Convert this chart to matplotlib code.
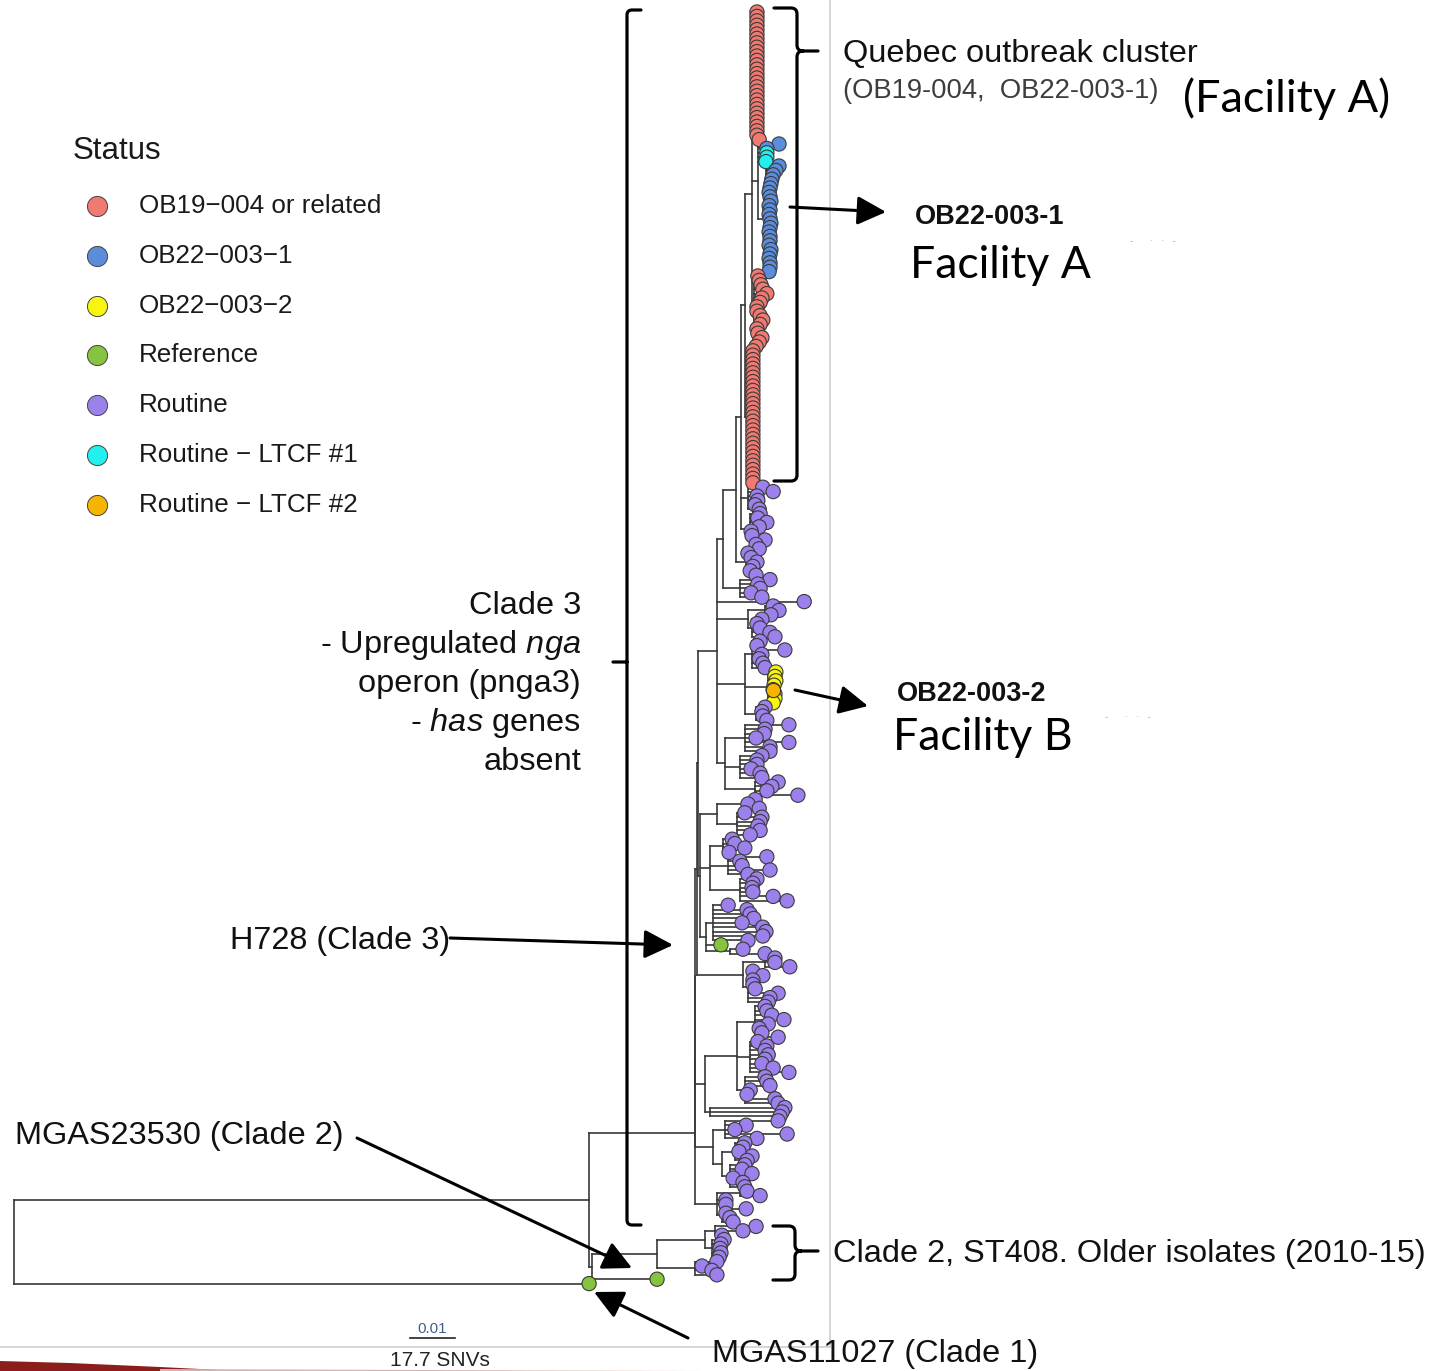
import matplotlib
matplotlib.use("Agg")
import matplotlib.pyplot as plt
from matplotlib.path import Path
from matplotlib.patches import PathPatch, Polygon
from matplotlib.collections import LineCollection

plt.rcParams['font.family'] = ['Liberation Sans', 'DejaVu Sans']
plt.rcParams['mathtext.fontset'] = 'custom'
plt.rcParams['mathtext.rm'] = 'Liberation Sans'
plt.rcParams['mathtext.it'] = 'Liberation Sans:italic'
plt.rcParams['mathtext.bf'] = 'Liberation Sans:bold'

# ---------------- data ----------------
status_labels = ["OB19\u2212004 or related", "OB22\u2212003\u22121", "OB22\u2212003\u22122",
                 "Reference", "Routine", "Routine \u2212 LTCF #1", "Routine \u2212 LTCF #2"]
status_codes = ["R", "B", "Y", "G", "P", "C", "O"]
status_colors = ["#F07A72", "#5B8DDB", "#F8F50E", "#86C33F", "#9C80EC", "#22F0EE", "#F5B400"]

# tip order top -> bottom; depth from root in 1e-3 substitutions/site
tip_depth = [
    # 0-29 Quebec outbreak, red column
    165.1, 165.1, 165.1, 165.1, 165.1, 165.1, 165.1, 165.1, 165.1, 165.1,
    165.1, 165.1, 165.1, 165.1, 165.1, 165.1, 165.1, 165.1, 165.1, 165.1,
    165.1, 165.1, 165.1, 165.1, 165.1, 165.1, 165.1, 165.1, 165.1, 165.6,
    # 30-59 OB22-003-1 / LTCF#1
    170.0, 167.3, 167.3, 167.3, 167.1, 170.0, 169.3, 168.7, 168.4, 168.2,
    168.0, 167.8, 168.0, 168.2, 167.8, 168.0, 167.8, 168.0, 168.2, 168.0,
    167.8, 168.0, 168.0, 167.8, 168.2, 168.0, 167.8, 168.0, 168.0, 167.8,
    # 60-76 red scattered
    165.3, 165.6, 166.0, 166.4, 167.3, 166.2, 165.8, 165.1, 165.1, 165.8,
    166.4, 165.8, 165.1, 165.3, 166.2, 165.6, 164.9,
    # 77-107 red column
    164.2, 164.2, 164.2, 164.2, 164.2, 164.2, 164.2, 164.2, 164.2, 164.2,
    164.2, 164.2, 164.2, 164.2, 164.2, 164.2, 164.2, 164.2, 164.2, 164.2,
    164.2, 164.2, 164.2, 164.2, 164.2, 164.2, 164.2, 164.2, 164.2, 164.2,
    164.2,
    # 108-121
    166.4, 168.7, 165.1, 165.3, 164.7, 165.6,
    165.8, 165.3, 167.3, 165.6, 163.8, 164.0, 166.9, 164.9,
    # 122-133
    165.6, 163.1, 163.8, 165.1, 164.2, 163.6, 164.9,
    168.0, 165.3, 165.8, 163.8, 166.2,
    # 134-142
    175.6, 168.7, 170.0, 168.2, 166.2, 165.1, 165.8, 168.0, 169.1,
    # 143-161 (incl. OB22-003-2)
    165.8, 165.1, 171.3, 166.2, 165.6, 166.4, 166.9,
    169.3, 169.1, 169.3, 168.9, 168.7, 169.1, 169.1, 168.7,
    166.9, 166.2, 166.4, 167.3,
    # 162-178
    172.2, 166.9, 166.7, 164.9, 172.2, 168.0, 168.0,
    166.2, 165.1, 165.1, 163.8, 165.8, 166.2,
    169.8, 168.4, 167.3, 174.2,
    # 179-214 (incl. H728)
    164.7, 163.1, 165.6, 162.4, 166.2, 165.8, 165.3, 165.8, 163.6,
    159.6, 160.2, 162.4, 158.9, 167.3, 161.3, 161.8, 168.0, 163.1,
    165.1, 164.2, 164.0, 164.2, 168.7, 171.8,
    158.7, 162.9, 163.6, 164.4, 161.8, 166.4, 167.1, 166.4, 163.1,
    157.1, 162.0, 166.9,
    # 215-225
    169.1, 169.1, 172.4, 164.2, 166.4, 164.2, 164.2, 164.7, 169.8, 168.0, 167.6,
    # 226-251
    166.9, 167.3, 168.4, 171.1, 167.6, 165.6, 166.2, 169.8,
    165.3, 167.3, 166.9, 167.6, 166.9, 166.2, 168.7, 172.2,
    166.9, 167.3, 168.0, 163.6, 162.9, 169.1, 169.8,
    171.3, 170.7, 170.2,
    # 252-275
    169.8, 162.7, 160.2, 171.8, 165.1,
    162.4, 162.0, 161.1, 164.0, 162.9,
    162.4, 161.8, 164.0, 159.8, 162.0, 162.4,
    162.9, 165.8, 158.2, 158.2, 162.7, 158.2, 159.1, 159.8,
    # 276-287 Clade 2
    164.9, 162.0, 157.3, 157.8, 157.1, 156.9, 157.1, 156.7,
    156.2, 152.9, 155.1, 156.2,
    # 288 MGAS23530, 289 MGAS11027
    142.9, 127.8,
]

tip_status = list(
    "R" * 30
    + "BBCCC" + "B" * 25
    + "R" * 17
    + "R" * 31
    + "P" * 42
    + "YYYYOYYY"
    + "P" * 54
    + "G"
    + "P" * 75
    + "GG"
)

# internal nodes: tip-index range [first, last] and node depth
grp_first = [0, 0, 0, 0, 0, 0, 0, 0, 0, 0, 0, 0, 0, 0, 30, 35, 60, 77,
             108, 114, 122, 129, 135, 135, 138, 143, 143, 150, 158,
             162, 162, 169, 175, 179, 179, 179, 182, 188, 188, 192, 197,
             203, 203, 213, 215, 215, 218, 226, 226, 226, 234, 242, 249,
             252, 252, 257, 257, 262, 268, 268, 272, 276, 276, 276, 276, 279, 284]
grp_last = [289, 288, 275, 267, 251, 225, 214, 178, 133, 128, 121, 107, 76, 29, 59, 59, 76, 107,
            113, 121, 128, 133, 142, 137, 142, 161, 149, 157, 161,
            178, 168, 174, 178, 214, 187, 181, 187, 202, 191, 196, 202,
            214, 211, 214, 225, 217, 225, 251, 248, 233, 241, 248, 251,
            267, 256, 267, 261, 267, 275, 269, 275, 288, 287, 283, 278, 283, 287]
grp_depth = [0.0, 127.8, 151.3, 151.3, 151.3, 151.8, 152.0, 156.2, 157.6, 160.4, 161.6, 162.4, 164.0, 164.7, 165.3, 167.1, 164.4, 162.9,
             163.1, 163.6, 162.7, 161.3, 163.1, 166.9, 164.0, 162.4, 164.0, 167.6, 164.9,
             158.0, 162.4, 161.3, 164.7, 152.4, 156.2, 162.4, 160.7, 154.7, 157.6, 158.7, 161.3,
             153.8, 155.3, 159.1, 162.0, 166.9, 163.1, 153.6, 160.7, 164.7, 163.6, 162.4, 154.7,
             155.3, 158.0, 157.3, 160.2, 159.1, 156.2, 161.3, 157.3, 128.4, 142.9, 153.6, 155.8, 155.1, 151.3]

scale_len = 10.0          # 0.01 substitutions/site
scale_snv = "17.7 SNVs"

assert len(tip_depth) == 290, len(tip_depth)
assert len(tip_status) == 290, len(tip_status)
assert len(grp_first) == len(grp_last) == len(grp_depth)

# ---------------- tree layout ----------------
n_tip = len(tip_depth)
n_grp = len(grp_first)
gsize = [grp_last[g] - grp_first[g] for g in range(n_grp)]

def smallest_container(f, l, exclude=None):
    best, bsize = None, None
    for h in range(n_grp):
        if h == exclude:
            continue
        if grp_first[h] <= f and l <= grp_last[h] and (exclude is None or gsize[h] > gsize[exclude]):
            if bsize is None or gsize[h] < bsize:
                best, bsize = h, gsize[h]
    return best

grp_parent = [smallest_container(grp_first[g], grp_last[g], exclude=g) for g in range(n_grp)]
tip_parent = [smallest_container(i, i) for i in range(n_tip)]

children = {g: [] for g in range(n_grp)}
for i in range(n_tip):
    children[tip_parent[i]].append(("t", i))
for g in range(n_grp):
    if grp_parent[g] is not None:
        children[grp_parent[g]].append(("g", g))

grp_y = [None] * n_grp
for g in sorted(range(n_grp), key=lambda k: gsize[k]):
    ys = [c[1] if c[0] == "t" else grp_y[c[1]] for c in children[g]]
    grp_y[g] = (min(ys) + max(ys)) / 2.0

segs = []
for g in range(n_grp):
    ys = []
    for kind, k in children[g]:
        cy = k if kind == "t" else grp_y[k]
        cx = tip_depth[k] if kind == "t" else grp_depth[k]
        ys.append(cy)
        segs.append([(grp_depth[g], cy), (cx, cy)])
    segs.append([(grp_depth[g], min(ys)), (grp_depth[g], max(ys))])

# ---------------- figure ----------------
W, H = 1432, 1371
fig = plt.figure(figsize=(W / 100, H / 100), dpi=100)
ax = fig.add_axes([0, 0, 1, 1])
ax.axis("off")
# 4.5 px per 1e-3 subs/site, root at x=14px; 4.4 px per tip, first tip at y=12px
ax.set_xlim(-14 / 4.5, (W - 14) / 4.5)
ax.set_ylim((H - 12) / 4.4, -12 / 4.4)

ax.add_collection(LineCollection(segs, colors="#383838", linewidths=1.2, zorder=1,
                                 capstyle="projecting"))
col_map = dict(zip(status_codes, status_colors))
idx = list(range(n_tip))
ax.scatter(tip_depth, idx, s=105, c=[col_map[s] for s in tip_status],
           edgecolors="#3a3a3a", linewidths=0.8, zorder=3)
# LTCF #2 isolate drawn on top of its neighbours
o_idx = [i for i in idx if tip_status[i] == "O"]
ax.scatter([tip_depth[i] for i in o_idx], o_idx, s=105, c=col_map["O"],
           edgecolors="#3a3a3a", linewidths=0.8, zorder=4)

# scale bar
sb_x0, sb_y = 88.0, 301.4
ax.plot([sb_x0, sb_x0 + scale_len], [sb_y, sb_y], color="#222222", lw=1.2)
ax.text(sb_x0 + scale_len / 2, sb_y - 0.4, "0.01", ha="center", va="bottom",
        fontsize=11, color="#40608a")
ax.text(sb_x0 + scale_len / 2 + 1.6, sb_y + 5.0, scale_snv, ha="center", va="center",
        fontsize=15, color="#222222")

# ---------------- annotation overlay (pixel coords) ----------------
ov = fig.add_axes([0, 0, 1, 1])
ov.set_xlim(0, W)
ov.set_ylim(H, 0)
ov.axis("off")
ov.patch.set_alpha(0)

# slide border lines and corner decoration
ov.plot([830, 830], [0, 1347], color="#cfcfcf", lw=1.2)
ov.plot([0, 830], [1347, 1347], color="#cfcfcf", lw=1.2)
ov.add_patch(Polygon([(0, 1361), (70, 1363), (160, 1367), (240, 1371), (0, 1371)],
                     closed=True, color="#8c1d1d", lw=0))
ov.add_patch(Polygon([(160, 1369), (420, 1370), (700, 1371), (160, 1371)],
                     closed=True, color="#d9b3b3", lw=0))

# legend
ov.text(73, 151, "Status", fontsize=22.5, color="#1a1a1a", va="center", ha="left")
for k, (lab, colr) in enumerate(zip(status_labels, status_colors)):
    yy = 206 + k * 49.8
    ov.scatter([97], [yy], s=210, color=colr, edgecolors="#444444", linewidths=0.7, zorder=5)
    ov.text(139, yy, lab, fontsize=18.7, color="#1a1a1a", va="center", ha="left")

def brace(x0, x1, xtip, ytop, ymid, ybot, r=6):
    v = [(x0, ytop), (x1 - r, ytop), (x1, ytop), (x1, ytop + r), (x1, ymid - r),
         (x1, ymid), (x1 + r, ymid), (xtip, ymid),
         (x1 + r, ymid), (x1, ymid), (x1, ymid + r), (x1, ybot - r),
         (x1, ybot), (x1 - r, ybot), (x0, ybot)]
    c = [Path.MOVETO, Path.LINETO, Path.CURVE3, Path.CURVE3, Path.LINETO,
         Path.CURVE3, Path.CURVE3, Path.LINETO,
         Path.MOVETO, Path.CURVE3, Path.CURVE3, Path.LINETO,
         Path.CURVE3, Path.CURVE3, Path.LINETO]
    ov.add_patch(PathPatch(Path(v, c), fill=False, lw=2.3, color="black",
                           capstyle="round", joinstyle="round"))

brace(774, 797, 818, 8, 51, 481)
brace(773, 795, 818, 1226, 1251, 1280)

# Clade 3 bracket
r = 5
v = [(641, 10), (627 + r, 10), (627, 10), (627, 10 + r), (627, 1225 - r), (627, 1225), (627 + r, 1225), (641, 1225),
     (627, 662), (613, 662)]
c = [Path.MOVETO, Path.LINETO, Path.CURVE3, Path.CURVE3, Path.LINETO, Path.CURVE3, Path.CURVE3, Path.LINETO,
     Path.MOVETO, Path.LINETO]
ov.add_patch(PathPatch(Path(v, c), fill=False, lw=2.3, color="black", capstyle="round", joinstyle="round"))

fs = 23.4
clade3_lines = ["Clade 3", r"- Upregulated $\mathit{nga}$", "operon (pnga3)", r"- $\mathit{has}$ genes", "absent"]
for k, t in enumerate(clade3_lines):
    ov.text(581, 606 + k * 39, t, fontsize=fs, ha="right", va="center", color="#111111")

ov.text(843, 54, "Quebec outbreak cluster", fontsize=fs, ha="left", va="center", color="#111111")
ov.text(843, 91, "(OB19-004,  OB22-003-1)", fontsize=19.7, ha="left", va="center", color="#3d3d3d")
ov.text(1183, 99, "(Facility A)", fontsize=32.5, ha="left", va="center", color="black",
        family=["Lato", "DejaVu Sans"])

ov.text(915, 217, "OB22-003-1", fontsize=19.5, fontweight="bold", ha="left", va="center", color="#111111")
ov.text(910, 265, "Facility A", fontsize=32, ha="left", va="center", color="black",
        family=["Lato", "DejaVu Sans"])
ov.text(897, 694, "OB22-003-2", fontsize=19.5, fontweight="bold", ha="left", va="center", color="#111111")
ov.text(893, 737, "Facility B", fontsize=32, ha="left", va="center", color="black",
        family=["Lato", "DejaVu Sans"])
ov.text(1130, 241, "-      \u00b7   \u00b7   -", fontsize=7, color="#b0b0b0", ha="left", va="center")
ov.text(1105, 717, "-      \u00b7   \u00b7   -", fontsize=7, color="#b0b0b0", ha="left", va="center")

ov.text(230, 941, "H728 (Clade 3)", fontsize=fs, ha="left", va="center", color="#111111")
ov.text(15, 1136, "MGAS23530 (Clade 2)", fontsize=fs, ha="left", va="center", color="#111111")
ov.text(712, 1354, "MGAS11027 (Clade 1)", fontsize=fs, ha="left", va="center", color="#111111")
ov.text(833, 1254, "Clade 2, ST408. Older isolates (2010-15)", fontsize=fs, ha="left", va="center",
        color="#111111")

arrows = [((790, 207), (886, 212)),
          ((795, 690), (868, 706)),
          ((450, 938), (673, 945)),
          ((357, 1138), (632, 1268)),
          ((688, 1338), (594, 1292))]
for tail, head in arrows:
    ov.annotate("", xy=head, xytext=tail,
                arrowprops=dict(arrowstyle="-|>,head_length=0.8,head_width=0.4",
                                color="black", lw=2.2, mutation_scale=22,
                                shrinkA=0, shrinkB=0))

fig.savefig("out.png", dpi=100)
